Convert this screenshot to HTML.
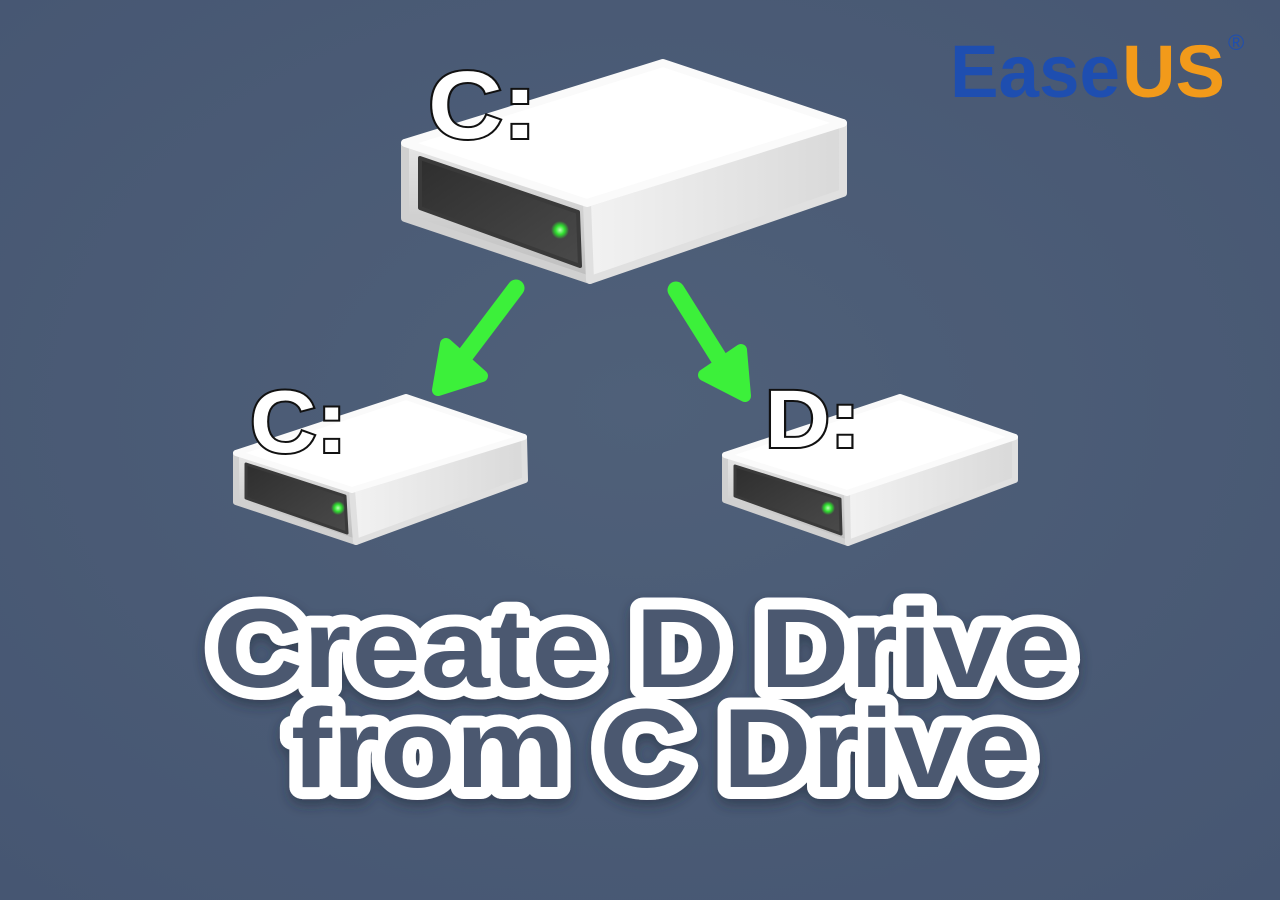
<!DOCTYPE html>
<html><head><meta charset="utf-8"><style>
html,body{margin:0;padding:0;width:1280px;height:900px;overflow:hidden;background:#4a5a76;}
svg{display:block}
</style></head><body>
<svg width="1280" height="900" viewBox="0 0 1280 900" xmlns="http://www.w3.org/2000/svg">
<defs>
<radialGradient id="bg" cx="50%" cy="45%" r="75%">
<stop offset="0" stop-color="#4f6079"/><stop offset="1" stop-color="#465672"/>
</radialGradient>
<linearGradient id="side" x1="0" y1="0" x2="1" y2="0">
<stop offset="0" stop-color="#f2f2f2"/><stop offset="1" stop-color="#d9d9d9"/>
</linearGradient>
<linearGradient id="front" x1="0" y1="0" x2="0" y2="1">
<stop offset="0" stop-color="#e6e6e6"/><stop offset="1" stop-color="#bdbdbd"/>
</linearGradient>
<linearGradient id="panel" x1="0" y1="0" x2="1" y2="1">
<stop offset="0" stop-color="#2e2e2e"/><stop offset="1" stop-color="#4a4a4a"/>
</linearGradient>
<radialGradient id="led"><stop offset="0" stop-color="#b8ffb0"/><stop offset="0.5" stop-color="#2fe02f"/><stop offset="1" stop-color="#2fe02f" stop-opacity="0"/></radialGradient>
<filter id="sh" x="-10%" y="-10%" width="120%" height="130%"><feDropShadow dx="0" dy="6" stdDeviation="6" flood-color="#1c2535" flood-opacity="0.5"/></filter>
</defs>
<rect width="1280" height="900" fill="url(#bg)"/>

<!-- Big drive -->
<g stroke-linejoin="round">
<polygon points="405,143 587,203 590,280 405,218" fill="url(#front)" stroke="#d0d0d0" stroke-width="8"/>
<polygon points="587,203 843,123 843,193 590,280" fill="url(#side)" stroke="#e0e0e0" stroke-width="8"/>
<polygon points="405,143 663,63 843,123 587,203" fill="#ffffff" stroke="#fafafa" stroke-width="8"/>
<polygon points="420,158 578,212 580,266 420,208" fill="url(#panel)" stroke="#3a3a3a" stroke-width="4"/>
<circle cx="560" cy="230" r="9" fill="url(#led)"/>
</g>

<!-- Small C drive -->
<g stroke-linejoin="round">
<polygon points="236,453 352,490 356,542 236,502" fill="url(#front)" stroke="#d0d0d0" stroke-width="6"/>
<polygon points="352,490 524,437 525,480 356,542" fill="url(#side)" stroke="#e0e0e0" stroke-width="6"/>
<polygon points="236,453 406,397 524,437 352,490" fill="#ffffff" stroke="#fafafa" stroke-width="6"/>
<polygon points="246,464 345,496 347,533 246,498" fill="url(#panel)" stroke="#3a3a3a" stroke-width="3"/>
<circle cx="338" cy="508" r="7" fill="url(#led)"/>
</g>

<!-- D drive -->
<g stroke-linejoin="round">
<polygon points="725,455 847,493 848,543 725,500" fill="url(#front)" stroke="#d0d0d0" stroke-width="6"/>
<polygon points="847,493 1015,437 1015,480 848,543" fill="url(#side)" stroke="#e0e0e0" stroke-width="6"/>
<polygon points="725,455 900,397 1015,437 847,493" fill="#ffffff" stroke="#fafafa" stroke-width="6"/>
<polygon points="735,466 840,499 841,534 735,496" fill="url(#panel)" stroke="#3a3a3a" stroke-width="3"/>
<circle cx="828" cy="508" r="7" fill="url(#led)"/>
</g>

<!-- Arrows -->
<g stroke="#3cf03a" stroke-width="17" stroke-linecap="round" stroke-linejoin="round" fill="#3cf03a">
<line x1="516" y1="288" x2="454" y2="370"/>
<polygon points="438,390 446,344 482,376" stroke-width="12"/>
<line x1="676" y1="290" x2="730" y2="376"/>
<polygon points="745,396 741,350 704,375" stroke-width="12"/>
</g>

<!-- Drive labels -->
<g font-family="'Liberation Sans',sans-serif" font-weight="bold" fill="#fff" stroke="#111" stroke-width="4" paint-order="stroke">
<text x="428" y="138" font-size="96" textLength="109" lengthAdjust="spacingAndGlyphs">C:</text>
<text x="250" y="452" font-size="88" textLength="97" lengthAdjust="spacingAndGlyphs">C:</text>
<text x="765" y="447" font-size="82" textLength="95" lengthAdjust="spacingAndGlyphs">D:</text>
</g>

<!-- Logo -->
<g font-family="'Liberation Sans',sans-serif" font-weight="bold">
<text x="950" y="97" font-size="74" fill="#1e4eb0" textLength="170" lengthAdjust="spacingAndGlyphs">Ease</text>
<text x="1122" y="97" font-size="74" fill="#f29a1a" textLength="103" lengthAdjust="spacingAndGlyphs">US</text>
<text x="1228" y="50" font-size="22" fill="#1e4eb0" font-weight="normal">®</text>
</g>

<!-- Title -->
<g font-family="'Liberation Sans',sans-serif" font-weight="bold" fill="#4b5870" stroke="#fff" stroke-width="24" stroke-linejoin="round" paint-order="stroke" filter="url(#sh)">
<text x="213" y="687" font-size="112" textLength="858" lengthAdjust="spacingAndGlyphs">Create D Drive</text>
<text x="291" y="787" font-size="112" textLength="740" lengthAdjust="spacingAndGlyphs">from C Drive</text>
</g>
</svg>
</body></html>
